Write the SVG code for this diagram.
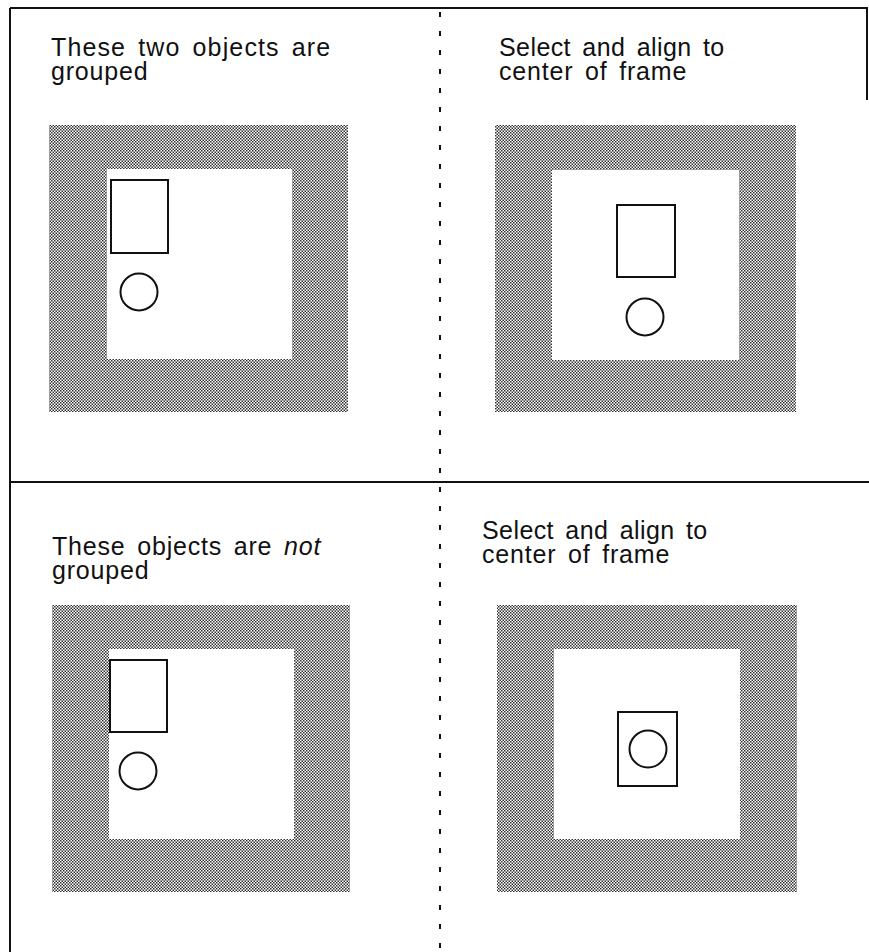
<svg xmlns="http://www.w3.org/2000/svg" width="869" height="952" viewBox="0 0 869 952">
  <style>
    .lbl { font-family: "Liberation Sans", Arial, sans-serif; font-size: 25px; letter-spacing: 0.8px; word-spacing: 4px; fill: #111; }
    .border { stroke: #111; stroke-width: 2; fill: none; }
    .mat { fill: url(#halftone); }
    .win { fill: #fff; }
    .obj { fill: #fff; stroke: #111; stroke-width: 2; }
  </style>
  <defs>
    <pattern id="halftone" width="3" height="3" patternUnits="userSpaceOnUse">
      <rect width="3" height="3" fill="#fff"/>
      <rect x="0" y="0" width="1.5" height="1.5" fill="#333"/>
      <rect x="1.5" y="1.5" width="1.5" height="1.5" fill="#333"/>
    </pattern>
  </defs>
  <rect width="869" height="952" fill="#fff"/>

  <g id="connectors">
    <line class="border" x1="10" y1="8" x2="868" y2="8"/>
    <line class="border" x1="10" y1="8" x2="10" y2="952"/>
    <line class="border" x1="867" y1="8" x2="867" y2="100"/>
    <line class="border" x1="10" y1="482" x2="869" y2="482"/>
    <line x1="440" y1="12" x2="440" y2="952" stroke="#111" stroke-width="2" stroke-dasharray="5 14"/>
  </g>

  <g id="panel-top-left">
    <text class="lbl" x="51" y="56" textLength="280" lengthAdjust="spacing">These two objects are</text>
    <text class="lbl" x="51" y="80">grouped</text>
    <rect class="mat" x="49" y="125" width="299" height="287"/>
    <rect class="win" x="107" y="169" width="185" height="190"/>
    <rect class="obj" x="111" y="180" width="57" height="73"/>
    <circle class="obj" cx="139" cy="292" r="18.5"/>
  </g>

  <g id="panel-top-right">
    <text class="lbl" x="499" y="56" textLength="226" lengthAdjust="spacing">Select and align to</text>
    <text class="lbl" x="499" y="80">center of frame</text>
    <rect class="mat" x="495" y="125" width="301" height="287"/>
    <rect class="win" x="552" y="170" width="187" height="190"/>
    <rect class="obj" x="617" y="205" width="58" height="72"/>
    <circle class="obj" cx="645" cy="317" r="18.5"/>
  </g>

  <g id="panel-bottom-left">
    <text class="lbl" x="52" y="555">These objects are <tspan font-style="italic">not</tspan></text>
    <text class="lbl" x="52" y="579">grouped</text>
    <rect class="mat" x="52" y="605" width="298" height="287"/>
    <rect class="win" x="109" y="649" width="185" height="190"/>
    <rect class="obj" x="110" y="660" width="57" height="72"/>
    <circle class="obj" cx="138" cy="771" r="18.5"/>
  </g>

  <g id="panel-bottom-right">
    <text class="lbl" x="482" y="539" textLength="226" lengthAdjust="spacing">Select and align to</text>
    <text class="lbl" x="482" y="563">center of frame</text>
    <rect class="mat" x="497" y="605" width="300" height="287"/>
    <rect class="win" x="554" y="649" width="186" height="190"/>
    <rect class="obj" x="618" y="712" width="59" height="74"/>
    <circle class="obj" cx="648" cy="749" r="18.5"/>
  </g>
</svg>
